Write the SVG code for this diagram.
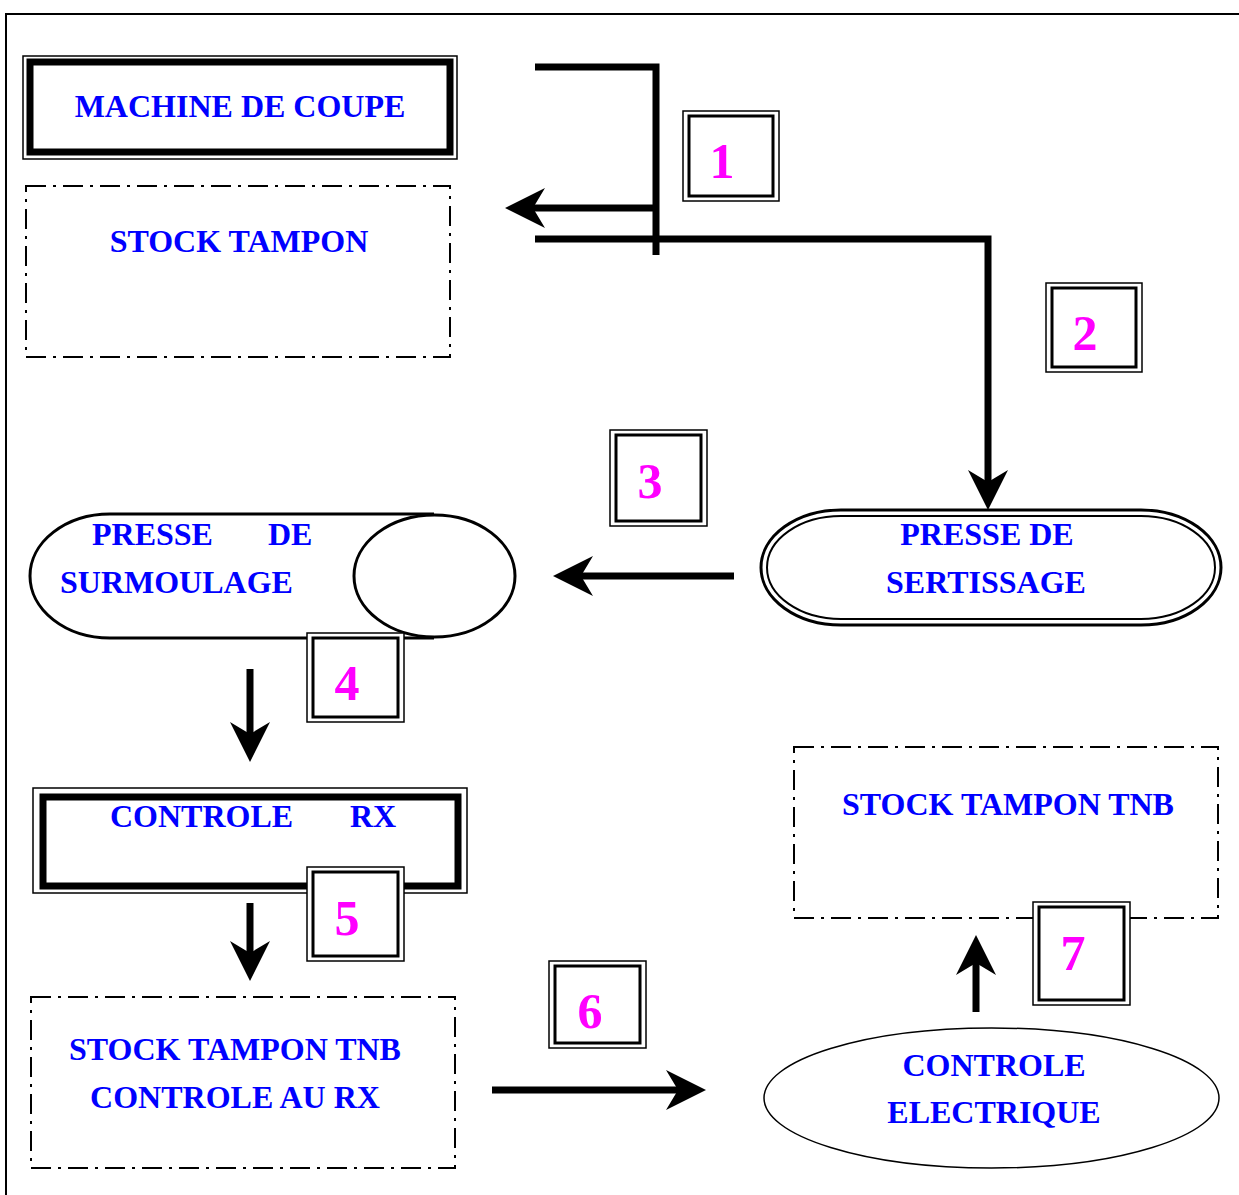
<svg xmlns="http://www.w3.org/2000/svg" width="1239" height="1195" viewBox="0 0 1239 1195">
<style>
.t{font-family:"Liberation Serif","Times New Roman",serif;font-weight:bold;font-size:32px;fill:#0000FF}
.c{text-anchor:middle}
.n{font-family:"Liberation Serif","Times New Roman",serif;font-weight:bold;font-size:50px;fill:#FF00FF;text-anchor:middle}
.dd{fill:none;stroke:#000;stroke-width:2;stroke-dasharray:20 7 3 7}
.ln{fill:none;stroke:#000;stroke-width:7;stroke-linejoin:miter}
.lo{fill:#fff;stroke:#000;stroke-width:1.5}
.li{fill:none;stroke:#000;stroke-width:3}
</style>
<defs>
<marker id="ah" viewBox="0 0 40 40" refX="20" refY="20" markerWidth="40" markerHeight="40" markerUnits="userSpaceOnUse" orient="auto">
<path d="M0,0 L40,20 L0,40 L12,20 Z" fill="#000"/>
</marker>
</defs>
<rect width="1239" height="1195" fill="#fff"/>
<g id="frame">
<path d="M6,1195 V14 H1239" fill="none" stroke="#000" stroke-width="2"/>
</g>
<g id="connectors">
<path class="ln" d="M535,67 H656 V255"/>
<path class="ln" d="M656,208 H525" marker-end="url(#ah)"/>
<path class="ln" d="M535,239 H988 V490" marker-end="url(#ah)"/>
<path class="ln" d="M734,576 H573" marker-end="url(#ah)"/>
<path class="ln" d="M250,669 V742" marker-end="url(#ah)"/>
<path class="ln" d="M250,903 V961" marker-end="url(#ah)"/>
<path class="ln" d="M492,1090 H686" marker-end="url(#ah)"/>
<path class="ln" d="M976,1012 V955" marker-end="url(#ah)"/>
</g>
<g id="machine-de-coupe">
<rect x="23" y="56" width="434" height="103" fill="#fff" stroke="#000" stroke-width="1.5"/>
<rect x="30" y="62" width="420" height="90" fill="none" stroke="#000" stroke-width="7"/>
<text class="t c" x="240" y="117">MACHINE DE COUPE</text>
</g>
<g id="stock-tampon">
<rect class="dd" x="26" y="186" width="424" height="171"/>
<text class="t c" x="239" y="252">STOCK TAMPON</text>
</g>
<g id="presse-sertissage">
<rect x="761" y="510" width="460" height="115" rx="80" ry="57.5" fill="#fff" stroke="#000" stroke-width="3"/>
<rect x="767" y="516" width="448" height="103" rx="74" ry="51.5" fill="none" stroke="#000" stroke-width="2"/>
<text class="t c" x="987" y="545">PRESSE DE</text>
<text class="t c" x="986" y="593">SERTISSAGE</text>
</g>
<g id="presse-surmoulage">
<path d="M434,514 H110 A80,62 0 0 0 110,638 H434" fill="#fff" stroke="#000" stroke-width="3"/>
<ellipse cx="434.5" cy="576" rx="80.5" ry="61" fill="#fff" stroke="#000" stroke-width="3"/>
<text class="t" y="545"><tspan x="92">PRESSE </tspan><tspan x="268">DE</tspan></text>
<text class="t" x="60" y="593">SURMOULAGE</text>
</g>
<g id="controle-rx">
<rect x="33" y="788" width="434" height="105" fill="#fff" stroke="#000" stroke-width="1.5"/>
<rect x="43" y="797" width="415" height="89" fill="none" stroke="#000" stroke-width="7"/>
<text class="t" y="827"><tspan x="110">CONTROLE </tspan><tspan x="350">RX</tspan></text>
</g>
<g id="stock-tampon-tnb-rx">
<rect class="dd" x="31" y="997" width="424" height="171"/>
<text class="t c" x="235" y="1060">STOCK TAMPON TNB</text>
<text class="t c" x="235" y="1108">CONTROLE AU RX</text>
</g>
<g id="controle-electrique">
<ellipse cx="991.5" cy="1098" rx="227.5" ry="70" fill="#fff" stroke="#000" stroke-width="1.5"/>
<text class="t c" x="994" y="1076">CONTROLE</text>
<text class="t c" x="994" y="1123">ELECTRIQUE</text>
</g>
<g id="stock-tampon-tnb">
<rect class="dd" x="794" y="747" width="424" height="171"/>
<text class="t c" x="1008" y="815">STOCK TAMPON TNB</text>
</g>
<g id="step-1">
<rect class="lo" x="683" y="111" width="96" height="90"/>
<rect class="li" x="689" y="116" width="84" height="80"/>
<text class="n" x="722" y="178">1</text>
</g>
<g id="step-2">
<rect class="lo" x="1046" y="283" width="96" height="89"/>
<rect class="li" x="1052" y="288" width="84" height="79"/>
<text class="n" x="1085" y="350">2</text>
</g>
<g id="step-3">
<rect class="lo" x="610" y="430" width="97" height="96"/>
<rect class="li" x="616" y="435" width="85" height="86"/>
<text class="n" x="650" y="498">3</text>
</g>
<g id="step-4">
<rect class="lo" x="307" y="633" width="97" height="89"/>
<rect class="li" x="313" y="638" width="85" height="79"/>
<text class="n" x="347" y="700">4</text>
</g>
<g id="step-5">
<rect class="lo" x="307" y="867" width="97" height="94"/>
<rect class="li" x="313" y="872" width="85" height="84"/>
<text class="n" x="347" y="935">5</text>
</g>
<g id="step-6">
<rect class="lo" x="549" y="961" width="97" height="87"/>
<rect class="li" x="555" y="966" width="85" height="77"/>
<text class="n" x="590" y="1028">6</text>
</g>
<g id="step-7">
<rect class="lo" x="1033" y="902" width="97" height="103"/>
<rect class="li" x="1039" y="907" width="85" height="93"/>
<text class="n" x="1073" y="970">7</text>
</g>
</svg>
